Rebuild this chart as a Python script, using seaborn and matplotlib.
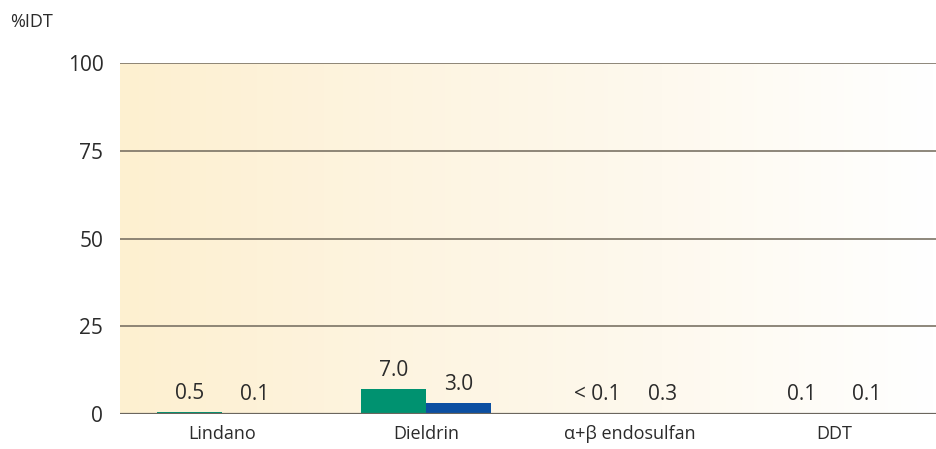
import numpy as np
import pandas as pd
import matplotlib
matplotlib.use("Agg")
import matplotlib.pyplot as plt
from matplotlib.colors import LinearSegmentedColormap
import seaborn as sns

# Pesticide intake as percentage of the tolerable daily intake
categories = ["Lindano", "Dieldrin", "α+β endosulfan", "DDT"]
series_names = ["Serie A", "Serie B"]
values_a = [0.5, 7.0, 0.1, 0.1]
values_b = [0.1, 3.0, 0.3, 0.1]
labels_a = ["0.5", "7.0", "< 0.1", "0.1"]
labels_b = ["0.1", "3.0", "0.3", "0.1"]
y_ticks = [0, 25, 50, 75, 100]
y_title = "%IDT"

sns.set_theme(style="white")
plt.rcParams["font.family"] = ["Open Sans", "DejaVu Sans"]

df = pd.DataFrame({
    "categoria": categories * 2,
    "serie": [series_names[0]] * 4 + [series_names[1]] * 4,
    "valor": values_a + values_b,
})

fig = plt.figure(figsize=(9.37, 4.49), dpi=100)
ax = fig.add_axes([120 / 937, 1 - 414 / 449, 816 / 937, 351 / 449])

# warm gradient behind the plot area
grad = LinearSegmentedColormap.from_list("warm", ["#fdf0d0", "#fdf4e0", "#fef9ee", "#ffffff"])
ax.imshow(np.linspace(0, 1, 256).reshape(1, -1), cmap=grad, aspect="auto",
          extent=(-0.5, 3.5, 0, 100), zorder=0)

palette = {series_names[0]: "#009270", series_names[1]: "#0c4fa1"}
sns.barplot(data=df, x="categoria", y="valor", hue="serie", order=categories,
            hue_order=series_names, palette=palette, width=0.64, saturation=1,
            gap=0, linewidth=0, edgecolor="none",
            legend=False, ax=ax, zorder=3)

for y in y_ticks[1:]:
    ax.axhline(y, color="#7b7365", lw=1.2, zorder=2)
ax.axhline(0, color="#6b665e", lw=1.6, zorder=4)

# value labels above each bar
for cont, labs in zip(ax.containers, [labels_a, labels_b]):
    for bar, lab in zip(cont, labs):
        ax.annotate(lab, (bar.get_x() + bar.get_width() / 2, bar.get_height()),
                    xytext=(0, 6), textcoords="offset points", ha="center",
                    va="bottom", fontsize=15, color="#2b2b2b", zorder=5)

ax.set_xlim(-0.5, 3.5)
ax.set_ylim(0, 100)
ax.set_yticks(y_ticks)
ax.set_yticklabels([str(t) for t in y_ticks], fontsize=15, color="#2b2b2b")
ax.tick_params(axis="y", length=0, pad=12)
ax.tick_params(axis="x", length=0, pad=8, labelsize=13, labelcolor="#2b2b2b")
ax.set_xlabel("")
ax.set_ylabel("")
for s in ax.spines.values():
    s.set_visible(False)

fig.text(10 / 937, 1 - 22 / 449, y_title, fontsize=13, color="#2b2b2b",
         va="center", ha="left")

fig.savefig("out.png", dpi=100)
